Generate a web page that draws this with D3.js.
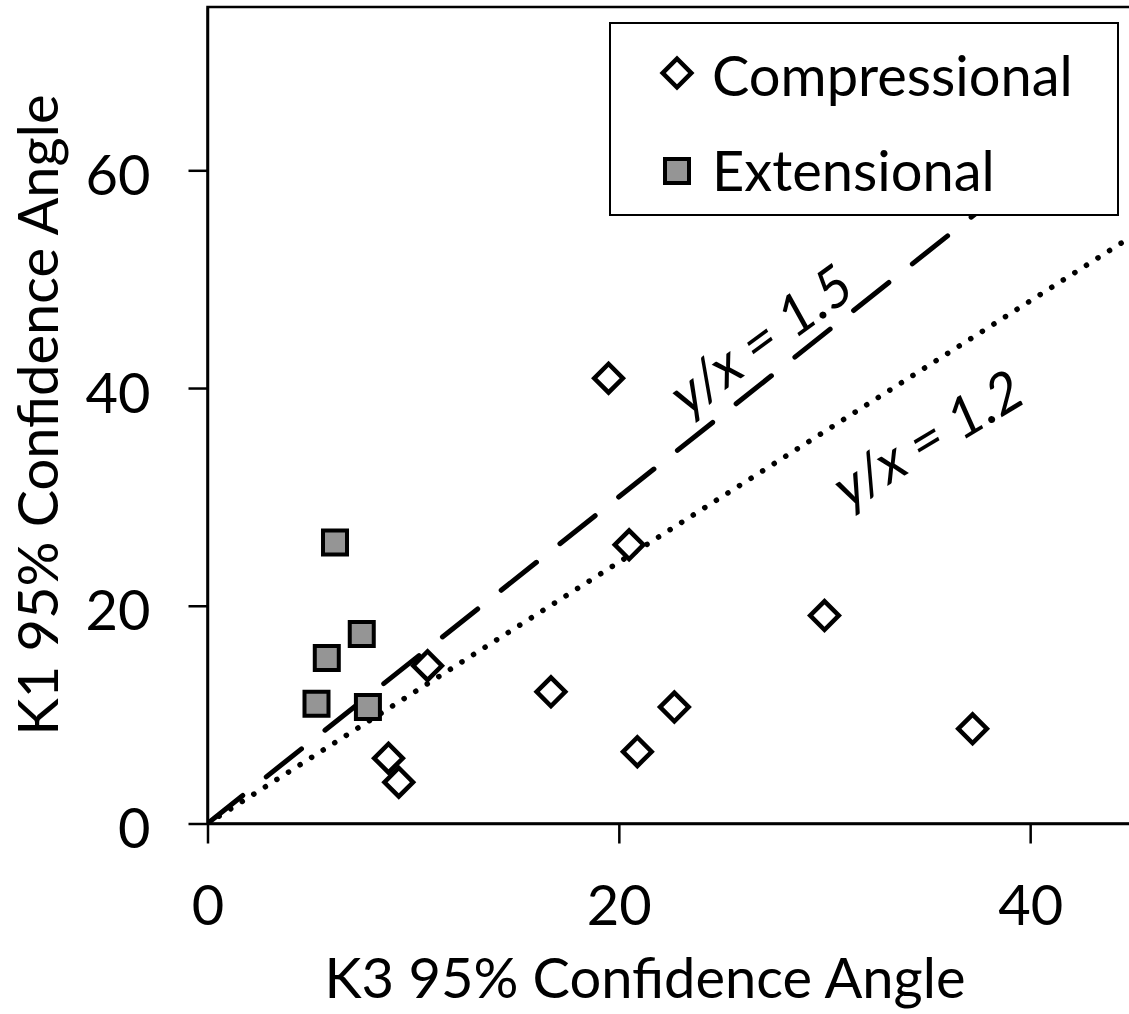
<!DOCTYPE html>
<html>
<head>
<meta charset="utf-8">
<script src="https://cdn.jsdelivr.net/npm/d3@7"></script>
<style>
  body { margin: 0; background: #fff; }
  text { font-family: Lato, "Open Sans", sans-serif; fill: #000; }
</style>
</head>
<body>
<script>
/* Data */

//Compressional points (K3 angle, K1 angle).
var compK3 = [19.5, 20.5, 10.7, 16.7, 22.7, 20.9, 8.8, 9.3, 30.0, 37.2];
var compK1 = [40.9, 25.6, 14.5, 12.1, 10.7, 6.6, 6.0, 3.8, 19.1, 8.7];

//Extensional points.
var extK3 = [6.2, 7.5, 5.8, 5.3, 7.8];
var extK1 = [25.8, 17.4, 15.2, 11.0, 10.7];

//Reference lines y = k * x, where each one stops on the x axis, and their labels.
var ratios = [1.5, 1.2];
var ratioEnds = [40, 45];
var ratioLabels = ["y/x = 1.5", "y/x = 1.2"];

//Tick values and legend names.
var xTicks = [0, 20, 40];
var yTicks = [0, 20, 40, 60];
var seriesNames = ["Compressional", "Extensional"];

/* Layout */
var width = 1129;
var height = 1014;
var fontSize = 56;

//Scales: the plot area runs past the right edge of the picture.
var x = d3.scaleLinear().domain([0, 45]).range([207.5, 1133]);
var y = d3.scaleLinear().domain([0, 75]).range([823.5, 7]);

var svg = d3.select("body").append("svg")
  .attr("width", width)
  .attr("height", height);

//Clip for the plot area.
svg.append("clipPath").attr("id", "plot")
  .append("rect")
  .attr("x", x(0)).attr("y", y(75))
  .attr("width", x(45) - x(0)).attr("height", y(0) - y(75));

//Plot area frame (only top and left show).
svg.append("rect")
  .attr("x", x(0)).attr("y", y(75))
  .attr("width", x(45) - x(0)).attr("height", y(0) - y(75))
  .attr("fill", "none").attr("stroke", "#000").attr("stroke-width", 2.5);

//Axes.
var xAxis = svg.append("g")
  .attr("transform", "translate(0," + y(0) + ")")
  .call(d3.axisBottom(x).tickValues(xTicks).tickSizeInner(20).tickSizeOuter(0));

var yAxis = svg.append("g")
  .attr("transform", "translate(" + x(0) + ",0)")
  .call(d3.axisLeft(y).tickValues(yTicks).tickSizeInner(19).tickSizeOuter(0));

[xAxis, yAxis].forEach(function (g) {
  g.select(".domain").attr("stroke", "#000").attr("stroke-width", 2.5);
  g.selectAll(".tick line").attr("stroke", "#000").attr("stroke-width", 2.5);
  g.selectAll(".tick text").attr("font-size", fontSize).attr("font-family", null).attr("fill", "#000");
});
xAxis.selectAll(".tick text").attr("y", 101.5).attr("dy", 0);
yAxis.selectAll(".tick text").attr("x", -57).attr("dy", 0).attr("y", 24);

//Axis titles.
svg.append("text")
  .attr("x", 645).attr("y", 998)
  .attr("text-anchor", "middle")
  .attr("font-size", fontSize)
  .text("K3 95% Confidence Angle");

svg.append("text")
  .attr("transform", "translate(58,415) rotate(-90)")
  .attr("text-anchor", "middle")
  .attr("font-size", fontSize)
  .text("K1 95% Confidence Angle");

//Reference lines.
var lines = svg.append("g").attr("clip-path", "url(#plot)");
var dashes = ["45 30", "0.1 13.6"];
var widths = [5, 5.5];

ratios.forEach(function (k, i) {
  lines.append("line")
    .attr("x1", x(0)).attr("y1", y(0))
    .attr("x2", x(ratioEnds[i])).attr("y2", y(k * ratioEnds[i]))
    .attr("stroke", "#000")
    .attr("stroke-width", widths[i])
    .attr("stroke-linecap", "round")
    .attr("stroke-dasharray", dashes[i]);
});

//Line labels.
var labelPos = [[760, 338, -36], [927, 437, -31]];
ratioLabels.forEach(function (t, i) {
  svg.append("text")
    .attr("transform", "translate(" + labelPos[i][0] + "," + labelPos[i][1] + ") rotate(" + labelPos[i][2] + ")")
    .attr("text-anchor", "middle")
    .attr("dominant-baseline", "central")
    .attr("font-size", fontSize)
    .attr("font-style", "italic")
    .text(t);
});

//Markers.
var diamond = d3.symbol().type(d3.symbolSquare).size(410);
var square = d3.symbol().type(d3.symbolSquare).size(576);

var comp = compK3.map(function (d, i) { return [d, compK1[i]]; });
var ext = extK3.map(function (d, i) { return [d, extK1[i]]; });

svg.append("g").selectAll("path")
  .data(comp).enter().append("path")
  .attr("d", diamond)
  .attr("transform", function (d) { return "translate(" + x(d[0]) + "," + y(d[1]) + ") rotate(45)"; })
  .attr("fill", "#fff").attr("stroke", "#000").attr("stroke-width", 4.5);

svg.append("g").selectAll("path")
  .data(ext).enter().append("path")
  .attr("d", square)
  .attr("transform", function (d) { return "translate(" + x(d[0]) + "," + y(d[1]) + ")"; })
  .attr("fill", "#959595").attr("stroke", "#000").attr("stroke-width", 4);

//Legend.
var legend = svg.append("g");
legend.append("rect")
  .attr("x", 610).attr("y", 23).attr("width", 508).attr("height", 192)
  .attr("fill", "#fff").attr("stroke", "#000").attr("stroke-width", 2);

legend.append("path").attr("d", diamond)
  .attr("transform", "translate(677,73) rotate(45)")
  .attr("fill", "#fff").attr("stroke", "#000").attr("stroke-width", 4.5);
legend.append("path").attr("d", square)
  .attr("transform", "translate(677,171)")
  .attr("fill", "#959595").attr("stroke", "#000").attr("stroke-width", 4);

legend.selectAll("text.name")
  .data(seriesNames).enter().append("text")
  .attr("class", "name")
  .attr("x", 712)
  .attr("y", function (d, i) { return 96 + i * 95; })
  .attr("font-size", fontSize)
  .text(function (d) { return d; });
</script>
</body>
</html>
